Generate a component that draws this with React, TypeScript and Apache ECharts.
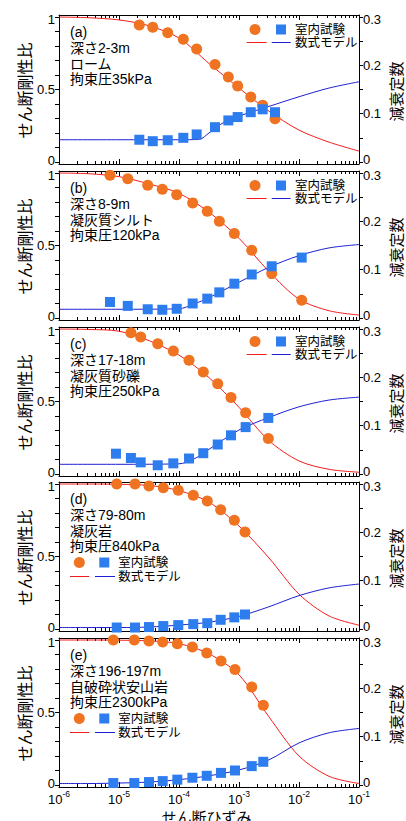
import React, { useEffect, useRef } from 'react';
import * as echarts from 'echarts';

// ---- texts ----
const panelTags = ['(a)', '(b)', '(c)', '(d)', '(e)'];
const depthLabels = ['深さ2-3m', '深さ8-9m', '深さ17-18m', '深さ79-80m', '深さ196-197m'];
const soilLabels = ['ローム', '凝灰質シルト', '凝灰質砂礫', '凝灰岩', '自破砕状安山岩'];
const pressureLabels = ['拘束圧35kPa', '拘束圧120kPa', '拘束圧250kPa', '拘束圧840kPa', '拘束圧2300kPa'];
const legendTestLabel = '室内試験';
const legendModelLabel = '数式モデル';
const leftAxisName = 'せん断剛性比';
const rightAxisName = '減衰定数';
const xAxisName = 'せん断ひずみ';
const ratioTickLabels = [0, 0.5, 1];
const ratioTicks = [0, 0.1, 0.2, 0.3, 0.4, 0.5, 0.6, 0.7, 0.8, 0.9, 1];
const dampTickLabels = [0, 0.1, 0.2, 0.3];
const dampTicks = [0, 0.05, 0.1, 0.15, 0.2, 0.25, 0.3];

// ---- laboratory test points ----
const testStrainA = [2.18e-5, 3.65e-5, 6.49e-5, 1.18e-4, 1.97e-4, 3.98e-4, 6.64e-4, 9.5e-4, 1.57e-3, 2.48e-3, 3.98e-3];
const testRatioA = [0.945, 0.929, 0.891, 0.846, 0.779, 0.673, 0.587, 0.525, 0.448, 0.391, 0.299];
const testDampA = [0.046, 0.043, 0.045, 0.05, 0.057, 0.072, 0.086, 0.093, 0.103, 0.109, 0.103];

const testStrainB = [7.08e-6, 1.4e-5, 3.01e-5, 5.27e-5, 9.16e-5, 1.69e-4, 2.96e-4, 4.7e-4, 8.36e-4, 1.63e-3, 3.51e-3, 1.11e-2];
const testRatioB = [0.984, 0.961, 0.915, 0.888, 0.851, 0.794, 0.737, 0.668, 0.583, 0.467, 0.306, 0.122];
const testDampB = [0.033, 0.025, 0.018, 0.017, 0.019, 0.03, 0.04, 0.053, 0.071, 0.09, 0.107, 0.125];

const testStrainC = [8.9e-6, 1.58e-5, 2.3e-5, 4.42e-5, 8.04e-5, 1.47e-4, 2.54e-4, 4.42e-4, 7.36e-4, 1.29e-3, 3.08e-3];
const testRatioC = [null, 0.975, 0.945, 0.899, 0.848, 0.784, 0.703, 0.623, 0.527, 0.423, 0.244];
const testDampC = [0.042, 0.033, 0.024, 0.018, 0.022, 0.032, 0.043, 0.061, 0.08, 0.097, 0.116];

const testStrainD = [9.16e-6, 1.85e-5, 3.16e-5, 5.47e-5, 9.73e-5, 1.73e-4, 2.96e-4, 4.95e-4, 8.36e-4, 1.26e-3];
const testRatioD = [1.0, 1.0, 0.986, 0.975, 0.957, 0.922, 0.883, 0.823, 0.75, 0.669];
const testDampD = [0.003, 0.003, 0.004, 0.006, 0.008, 0.01, 0.012, 0.019, 0.024, 0.03];

const testStrainE = [8.04e-6, 1.8e-5, 3.16e-5, 5.35e-5, 9.38e-5, 1.67e-4, 2.9e-4, 5.01e-4, 8.57e-4, 1.63e-3, 2.54e-3];
const testRatioE = [1.0, 1.0, 0.993, 0.986, 0.975, 0.952, 0.91, 0.855, 0.796, 0.676, 0.55];
const testDampE = [0.004, 0.004, 0.006, 0.008, 0.011, 0.015, 0.019, 0.025, 0.03, 0.039, 0.048];

// ---- model curves ----
const modelStrain = [1e-6, 3.16e-6, 1e-5, 3.16e-5, 1e-4, 3.16e-4, 1e-3, 3.16e-3, 1e-2, 3.16e-2, 1e-1];
const modelRatioA = [1.0, 0.995, 0.98, 0.94, 0.855, 0.68, 0.51, 0.35, 0.22, 0.137, 0.075];
const modelRatioB = [1.0, 0.995, 0.975, 0.925, 0.86, 0.73, 0.55, 0.32, 0.13, 0.05, 0.02];
const modelRatioC = [1.0, 0.997, 0.985, 0.92, 0.82, 0.665, 0.46, 0.23, 0.09, 0.032, 0.012];
const modelRatioD = [1.0, 1.0, 0.998, 0.99, 0.955, 0.875, 0.71, 0.49, 0.24, 0.09, 0.026];
const modelRatioE = [1.0, 1.0, 0.999, 0.994, 0.975, 0.905, 0.76, 0.47, 0.2, 0.06, 0.01];

const dampStrainA = [1e-6, 1e-5, 1e-4, 2.2e-4, 3.16e-4, 5.6e-4, 1e-3, 3.16e-3, 1e-2, 3.16e-2, 1e-1];
const modelDampA = [0.046, 0.046, 0.046, 0.047, 0.06, 0.082, 0.095, 0.115, 0.135, 0.153, 0.166];
const dampStrainB = [1e-6, 1e-5, 1e-4, 1.78e-4, 3.16e-4, 1e-3, 3.16e-3, 1e-2, 3.16e-2, 1e-1];
const modelDampB = [0.018, 0.018, 0.019, 0.029, 0.042, 0.074, 0.105, 0.129, 0.145, 0.152];
const dampStrainC = [1e-6, 1e-5, 1e-4, 1.78e-4, 3.16e-4, 1e-3, 3.16e-3, 1e-2, 3.16e-2, 1e-1];
const modelDampC = [0.02, 0.02, 0.021, 0.031, 0.051, 0.091, 0.117, 0.139, 0.153, 0.159];
const modelDampD = [0.003, 0.003, 0.003, 0.004, 0.008, 0.014, 0.026, 0.046, 0.069, 0.085, 0.093];
const modelDampE = [0.003, 0.003, 0.004, 0.006, 0.011, 0.019, 0.031, 0.052, 0.087, 0.108, 0.117];

const panelTests = [
  [testStrainA, testRatioA, testDampA],
  [testStrainB, testRatioB, testDampB],
  [testStrainC, testRatioC, testDampC],
  [testStrainD, testRatioD, testDampD],
  [testStrainE, testRatioE, testDampE],
];
const panelModels = [
  [modelStrain, modelRatioA, dampStrainA, modelDampA],
  [modelStrain, modelRatioB, dampStrainB, modelDampB],
  [modelStrain, modelRatioC, dampStrainC, modelDampC],
  [modelStrain, modelRatioD, modelStrain, modelDampD],
  [modelStrain, modelRatioE, modelStrain, modelDampE],
];

// ---- layout / style ----
const FONT = "'Liberation Sans', Arial, 'Noto Sans CJK JP', sans-serif";
const GRID_LEFT = 59;
const GRID_WIDTH = 300;
const GRID_HEIGHT = 149;
const TOPS = [15, 171, 327, 482, 638];
const RED = '#f21c1c';
const BLUE_LINE = '#1f1fd2';
const ORANGE = '#ef7320';
const BLUE_MARK = '#2e7def';

function pairs(xs: number[], ys: (number | null)[]) {
  const out: number[][] = [];
  xs.forEach((x, k) => {
    const y = ys[k];
    if (y !== null && y !== undefined) out.push([x, y]);
  });
  return out;
}

const lbl = { fontSize: 13, fontFamily: FONT, color: '#000' };

function buildOption() {
  const grid: any[] = [];
  const xAxis: any[] = [];
  const yAxis: any[] = [];
  const series: any[] = [];
  const graphic: any[] = [];
  const minorTicks: number[] = [];
  for (let e = -6; e < -1; e++) for (let k = 2; k <= 9; k++) minorTicks.push(e + Math.log10(k));

  const tickAxis = (i: number, pos: string, major: boolean, labels: boolean) => ({
    type: 'value',
    gridIndex: i,
    position: pos,
    min: -6,
    max: -1,
    interval: 1,
    axisLine: { show: major, onZero: false, lineStyle: { color: '#000', width: 1 } },
    axisTick: major
      ? { show: true, inside: true, length: 5, lineStyle: { color: '#000', width: 1 } }
      : { show: true, inside: true, length: 3, customValues: minorTicks, lineStyle: { color: '#000', width: 1 } },
    axisLabel: {
      show: labels,
      margin: 3,
      formatter: (v: number) => `{n|10}{s|${v}}`,
      rich: {
        n: { fontSize: 13, fontFamily: FONT, color: '#000' },
        s: { fontSize: 8.5, fontFamily: FONT, color: '#000', padding: [0, 0, 10, 0] },
      },
    },
    splitLine: { show: false },
  });

  for (let i = 0; i < 5; i++) {
    const T = TOPS[i];
    grid.push({ left: GRID_LEFT, top: T, width: GRID_WIDTH, height: GRID_HEIGHT });
    xAxis.push({ type: 'log', logBase: 10, gridIndex: i, position: 'bottom', min: 1e-6, max: 1e-1, show: false });
    xAxis.push(tickAxis(i, 'bottom', true, i === 4));
    xAxis.push(tickAxis(i, 'bottom', false, false));
    xAxis.push(tickAxis(i, 'top', true, false));
    xAxis.push(tickAxis(i, 'top', false, false));
    yAxis.push({
      type: 'value', gridIndex: i, position: 'left', min: -0.014, max: 1.014,
      axisLine: { show: true, onZero: false, lineStyle: { color: '#000', width: 1 } },
      axisTick: { show: true, inside: false, length: 4, customValues: ratioTicks, lineStyle: { color: '#000' } },
      axisLabel: {
        show: true, margin: 4, customValues: ratioTickLabels,
        formatter: (v: number) => (v === 1 ? '{t|1}' : v === 0 ? '{b|0}' : `{m|${v}}`),
        rich: { t: { ...lbl, padding: [5, 0, 0, 0] }, b: { ...lbl, padding: [0, 0, 2, 0] }, m: { ...lbl } },
        ...lbl,
      },
      splitLine: { show: false },
    });
    yAxis.push({
      type: 'value', gridIndex: i, position: 'right', min: -0.0042, max: 0.3042,
      axisLine: { show: true, onZero: false, lineStyle: { color: '#000', width: 1 } },
      axisTick: { show: true, inside: false, length: 4, customValues: dampTicks, lineStyle: { color: '#000' } },
      axisLabel: {
        show: true, margin: 4, customValues: dampTickLabels,
        formatter: (v: number) => (v >= 0.29 ? `{t|${v}}` : v === 0 ? '{b|0}' : `{m|${v}}`),
        rich: { t: { ...lbl, padding: [5, 0, 0, 0] }, b: { ...lbl, padding: [0, 0, 5, 0] }, m: { ...lbl } },
        ...lbl,
      },
      splitLine: { show: false },
    });

    const [ms, mr, ds, md] = panelModels[i];
    const [ts, tr, td] = panelTests[i];
    series.push({
      type: 'line', xAxisIndex: i * 5, yAxisIndex: i * 2, data: pairs(ms as number[], mr as number[]),
      showSymbol: false, smooth: 0.3, lineStyle: { color: RED, width: 1 }, z: 2,
    });
    series.push({
      type: 'line', xAxisIndex: i * 5, yAxisIndex: i * 2 + 1, data: pairs(ds as number[], md as number[]),
      showSymbol: false, smooth: 0.3, lineStyle: { color: BLUE_LINE, width: 1 }, z: 2,
    });
    series.push({
      type: 'scatter', xAxisIndex: i * 5, yAxisIndex: i * 2, data: pairs(ts as number[], tr as any),
      symbol: 'circle', symbolSize: 11, itemStyle: { color: ORANGE, opacity: 1 }, z: 3, clip: false,
    });
    series.push({
      type: 'scatter', xAxisIndex: i * 5, yAxisIndex: i * 2 + 1, data: pairs(ts as number[], td as any),
      symbol: 'rect', symbolSize: 10, itemStyle: { color: BLUE_MARK, opacity: 1 }, z: 3, clip: false,
    });

    // annotations
    const annot = [panelTags[i], depthLabels[i], soilLabels[i], pressureLabels[i]];
    const offs = [17, 33, 48.5, 64];
    annot.forEach((t, k) => {
      graphic.push({
        type: 'text', x: 70, y: T + offs[k],
        style: { text: t, font: `14px ${FONT}`, fill: '#000', textAlign: 'left', textVerticalAlign: 'middle' },
      });
    });

    // legend
    const leftLegend = i >= 3;
    const l1 = leftLegend ? T + 80.5 : T + 14.5;
    const l2 = leftLegend ? T + 94.5 : T + 27.5;
    const cX = leftLegend ? 79.3 : 255;
    const sX = leftLegend ? 104.3 : 281;
    const tX = leftLegend ? 118.3 : 295;
    const r1 = leftLegend ? [70, 89.3] : [246.7, 266.7];
    const b1 = leftLegend ? [95, 115] : [271.7, 290.7];
    graphic.push({ type: 'circle', shape: { cx: cX, cy: l1, r: 5.5 }, style: { fill: ORANGE } });
    graphic.push({ type: 'rect', shape: { x: sX - 5, y: l1 - 5, width: 10, height: 10 }, style: { fill: BLUE_MARK } });
    graphic.push({ type: 'text', x: tX, y: l1, style: { text: legendTestLabel, font: `12.5px ${FONT}`, fill: '#000', textAlign: 'left', textVerticalAlign: 'middle' } });
    graphic.push({ type: 'line', shape: { x1: r1[0], y1: l2, x2: r1[1], y2: l2 }, style: { stroke: RED, lineWidth: 1 } });
    graphic.push({ type: 'line', shape: { x1: b1[0], y1: l2, x2: b1[1], y2: l2 }, style: { stroke: BLUE_LINE, lineWidth: 1 } });
    graphic.push({ type: 'text', x: tX, y: l2, style: { text: legendModelLabel, font: `12.5px ${FONT}`, fill: '#000', textAlign: 'left', textVerticalAlign: 'middle' } });

    // axis names
    graphic.push({
      type: 'text', x: 25, y: T + 75.5, rotation: Math.PI / 2,
      style: { text: leftAxisName, font: `16px ${FONT}`, fill: '#000', textAlign: 'center', textVerticalAlign: 'middle' },
    });
    graphic.push({
      type: 'text', x: 396.5, y: T + 76.5, rotation: Math.PI / 2,
      style: { text: rightAxisName, font: `15px ${FONT}`, fill: '#000', textAlign: 'center', textVerticalAlign: 'middle' },
    });
  }
  graphic.push({
    type: 'text', x: 206.5, y: 817.5,
    style: { text: xAxisName, font: `15px ${FONT}`, fill: '#000', textAlign: 'center', textVerticalAlign: 'middle' },
  });

  return {
    animation: false,
    backgroundColor: '#fff',
    grid,
    xAxis,
    yAxis,
    series,
    graphic,
  };
}

export default function App() {
  const ref = useRef<HTMLDivElement>(null);
  useEffect(() => {
    document.body.style.margin = '0';
    if (!ref.current) return;
    const chart = echarts.init(ref.current, undefined, { renderer: 'svg' });
    chart.setOption(buildOption() as any);
    return () => chart.dispose();
  }, []);
  return <div ref={ref} style={{ width: 406, height: 821 }} />;
}
